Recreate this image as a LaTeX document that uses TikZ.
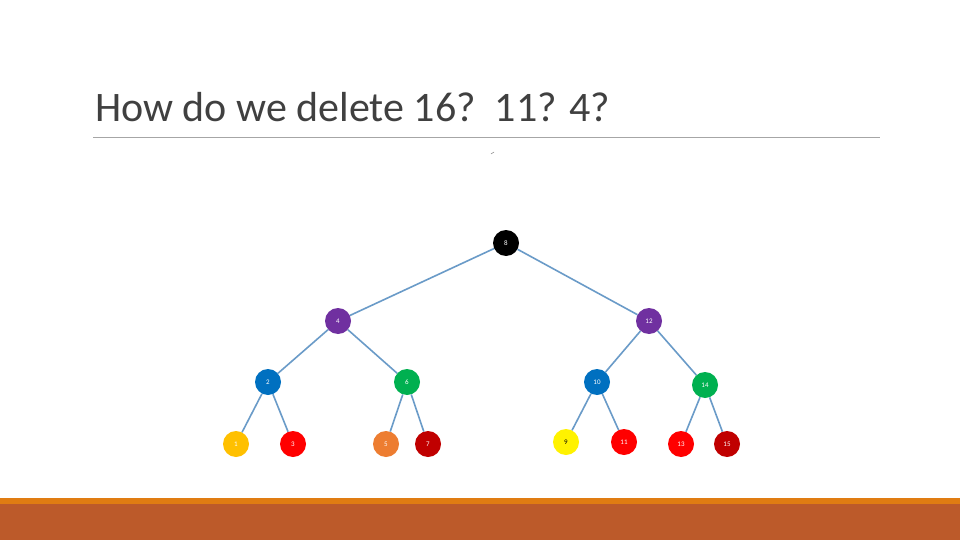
\documentclass[tikz,border=0pt]{standalone}
\usepackage{fontspec}
\setmainfont{Carlito}
\definecolor{edc}{RGB}{106,155,200}
\definecolor{ttl}{RGB}{64,64,64}
\definecolor{orl}{RGB}{224,124,18}
\definecolor{brn}{RGB}{188,90,42}
\definecolor{pur}{RGB}{112,48,160}
\definecolor{blu}{RGB}{0,112,192}
\definecolor{grn}{RGB}{0,176,80}
\definecolor{gld}{RGB}{255,192,0}
\definecolor{org}{RGB}{237,125,49}
\definecolor{drd}{RGB}{192,0,0}
\begin{document}
\begin{tikzpicture}[x=1pt,y=-1pt,
  nd/.style={circle,minimum size=26pt,inner sep=0pt,text=white,font=\fontsize{7}{7}\selectfont},
  ed/.style={draw=edc,line width=1.6pt}]
\useasboundingbox (0,0) rectangle (960,540);
\fill[white] (0,0) rectangle (960,540);
\node[anchor=base west,inner sep=0pt,font=\fontsize{42}{42}\selectfont,text=ttl] (title) at (95,122) {How do we delete 16?~~11? 4?};
\draw[gray!70,line width=0.8pt] (93,137) coordinate (r1) -- (880,137) coordinate (r2);
\fill[orl] (0,498) rectangle (960,504);
\fill[brn] (0,504) rectangle (960,540);
\draw[gray,line width=0.5pt] (491,154) coordinate (m1) -- (494,152) coordinate (m2);
\begin{scope}[every node/.append style={nd}]
\node[fill=black] (n8) at (506,243) {8};
\node[fill=pur] (n4) at (338,321) {4};
\node[fill=pur] (n12) at (649,321) {12};
\node[fill=blu] (n2) at (268,382) {2};
\node[fill=grn] (n6) at (407,382) {6};
\node[fill=blu] (n10) at (597,382) {10};
\node[fill=grn] (n14) at (705,385) {14};
\node[fill=gld] (n1) at (236,444) {1};
\node[fill=red] (n3) at (293,444) {3};
\node[fill=org] (n5) at (386,444) {5};
\node[fill=drd] (n7) at (428,444) {7};
\node[fill=yellow,text=black] (n9) at (566,442) {9};
\node[fill=red] (n11) at (624,442) {11};
\node[fill=red] (n13) at (681,444) {13};
\node[fill=drd] (n15) at (727,444) {15};
\end{scope}
\foreach \a/\b in {n8/n4,n8/n12,n4/n2,n4/n6,n12/n10,n12/n14,n2/n1,n2/n3,n6/n5,n6/n7,n10/n9,n10/n11,n14/n13,n14/n15}
  \draw[ed] (\a) -- (\b);
\end{tikzpicture}
\end{document}
